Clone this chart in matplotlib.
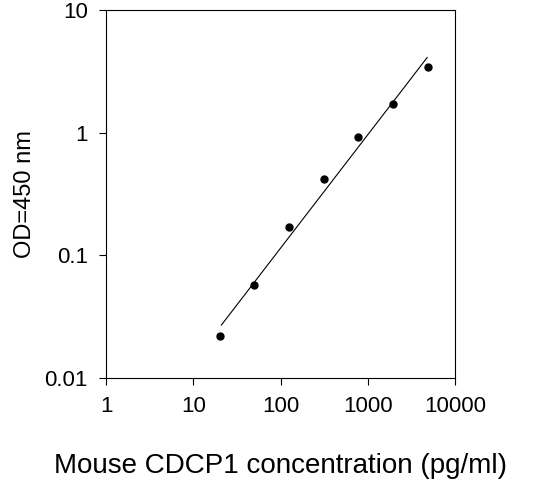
import matplotlib
matplotlib.use("Agg")
import matplotlib.pyplot as plt
import numpy as np

conc = [20, 50, 125, 312, 781, 1953, 4882]
od = [0.022, 0.057, 0.17, 0.42, 0.92, 1.7, 3.4]
fit_x = [21, 4800]
fit_y = [0.027, 4.1]
xticks = [1, 10, 100, 1000, 10000]
yticks = [0.01, 0.1, 1, 10]

plt.rcParams['font.family'] = ['Liberation Sans', 'DejaVu Sans']
fig = plt.figure(figsize=(5.47, 4.94), dpi=100)
ax = fig.add_axes([106/547, 1-378/494, (455-106)/547, (378-10)/494])
ax.set_xscale('log'); ax.set_yscale('log')
ax.plot(fit_x, fit_y, color='black', lw=0.8)
ax.plot(conc, od, 'o', color='black', ms=5)
ax.set_xlim(1, 10000); ax.set_ylim(0.01, 10)
ax.set_xticks(xticks); ax.set_xticklabels([str(v) for v in xticks])
ax.set_yticks(yticks); ax.set_yticklabels(['0.01', '0.1', '1', '10'])
ax.minorticks_off()
ax.tick_params(labelsize=16, direction='out', length=5, pad=8)
ax.set_xlabel('Mouse CDCP1 concentration (pg/ml)', fontsize=20, labelpad=26)
ax.set_ylabel('OD=450 nm', fontsize=17, labelpad=6)
fig.savefig('out.png', dpi=100)
